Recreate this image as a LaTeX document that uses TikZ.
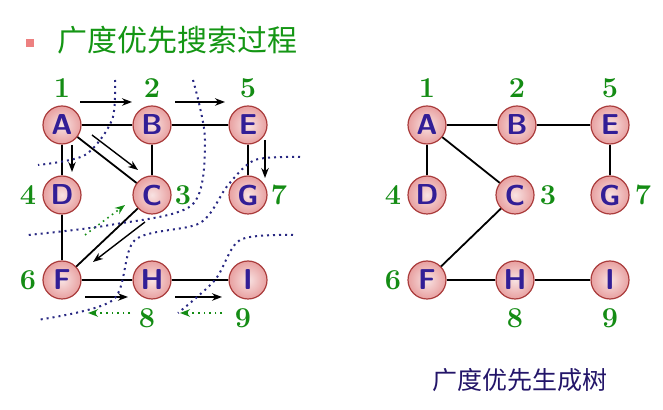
\documentclass[tikz,border=0pt]{standalone}
\usepackage{fontspec}
\newfontfamily\cjk{Noto Sans CJK SC}
\usetikzlibrary{arrows.meta}
\definecolor{nfill}{RGB}{232,160,160}
\definecolor{nedge}{RGB}{170,60,60}
\definecolor{ltr}{RGB}{50,30,150}
\definecolor{num}{RGB}{20,140,20}
\definecolor{dotc}{RGB}{40,40,130}
\definecolor{ttl}{RGB}{20,150,20}
\tikzset{
  vx/.style={circle,minimum size=19pt,inner sep=0pt,inner color=nfill!30,outer color=nfill,draw=nedge,line width=0.6pt,text=ltr,font=\sffamily\bfseries\Large},
  nm/.style={text=num,font=\bfseries\Large},
  ed/.style={line width=0.9pt},
  ar/.style={line width=0.7pt,-{Stealth[length=5pt]}},
  gar/.style={num,line width=0.8pt,dotted,-{Stealth[length=5pt]}},
  cut/.style={dotc,line width=1pt,dotted}
}
\begin{document}
\begin{tikzpicture}[x=0.5pt,y=-0.5pt]
\useasboundingbox (0,0) rectangle (663,410);
\fill[nfill!80!red] (26,39) rectangle (34,47);
\node[anchor=west,text=ttl,font=\cjk\fontsize{15}{17}\selectfont] (t) at (50,40) {广度优先搜索过程};
\node[text=ltr!70!black,font=\cjk\fontsize{12.5}{14}\selectfont] (t2) at (520,380) {广度优先生成树};
% left graph
\foreach \n/\x/\y in {A/62/125,B/152/125,E/248/125,D/62/195,C/152/195,G/248/195,F/62/280,H/152/280,I/248/280}
  \node[vx] (L\n) at (\x,\y) {\n};
\foreach \a/\b in {A/B,B/E,A/D,A/C,B/C,E/G,D/F,C/F,F/H,H/I}
  \draw[ed] (L\a) -- (L\b);
\foreach \t/\x/\y in {1/62/88,2/152/88,5/248/88,4/28/195,3/183/195,7/279/195,6/28/280,8/147/318,9/243/318}
  \node[nm] (Ln\t) at (\x,\y) {\t};
\coordinate (a1) at (80,102); \coordinate (a2) at (132,102);
\coordinate (b1) at (175,102); \coordinate (b2) at (225,102);
\coordinate (c1) at (72,145); \coordinate (c2) at (72,172);
\coordinate (d1) at (92,135); \coordinate (d2) at (138,170);
\coordinate (e1) at (265,140); \coordinate (e2) at (265,178);
\coordinate (f1) at (145,222); \coordinate (f2) at (93,262);
\coordinate (g1) at (85,297); \coordinate (g2) at (128,297);
\coordinate (h1) at (175,297); \coordinate (h2) at (222,297);
\draw[ar] (a1)--(a2); \draw[ar] (b1)--(b2); \draw[ar] (c1)--(c2);
\draw[ar] (d1)--(d2); \draw[ar] (e1)--(e2); \draw[ar] (f1)--(f2);
\draw[ar] (g1)--(g2); \draw[ar] (h1)--(h2);
\coordinate (i1) at (85,235); \coordinate (i2) at (125,205);
\coordinate (j1) at (130,313); \coordinate (j2) at (88,313);
\coordinate (k1) at (222,313); \coordinate (k2) at (180,313);
\draw[gar] (i1)--(i2); \draw[gar] (j1)--(j2); \draw[gar] (k1)--(k2);
\draw[cut] plot[smooth] coordinates {(115,80) (112,120) (85,155) (38,165)};
\draw[cut] plot[smooth] coordinates {(193,80) (205,140) (192,205) (110,225) (28,235)};
\draw[cut] plot[smooth] coordinates {(300,157) (255,160) (228,185) (200,223) (135,240) (113,300) (37,320)};
\draw[cut] plot[smooth] coordinates {(293,235) (240,240) (215,280) (178,313)};
% right graph
\foreach \n/\x/\y in {A/427/125,B/517/125,E/610/125,D/427/195,C/515/195,G/610/195,F/427/280,H/515/280,I/610/280}
  \node[vx] (R\n) at (\x,\y) {\n};
\foreach \a/\b in {A/B,B/E,A/D,A/C,E/G,C/F,F/H,H/I}
  \draw[ed] (R\a) -- (R\b);
\foreach \t/\x/\y in {1/427/88,2/517/88,5/610/88,4/393/195,3/548/195,7/643/195,6/393/280,8/515/318,9/610/318}
  \node[nm] (Rn\t) at (\x,\y) {\t};
\end{tikzpicture}
\end{document}
